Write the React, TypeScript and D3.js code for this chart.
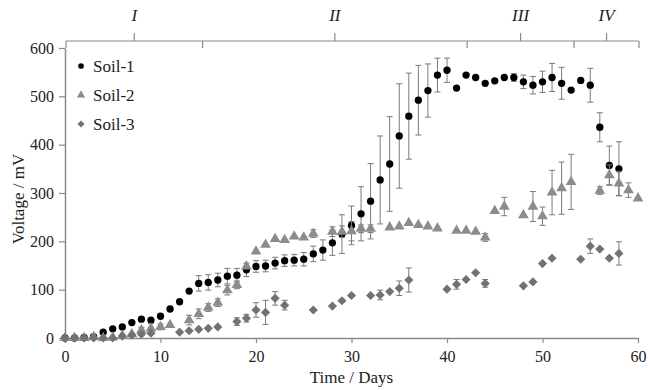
import { useRef, useEffect } from 'react';
import * as d3 from 'd3';

// Soil-1 (black dots)
const soil1Days = d3.range(0, 59);
const soil1Values = [0, 0, 1, 3, 12, 19, 23, 32, 39, 37, 45, 60, 75, 97, 113, 115, 120, 128, 130, 141, 148, 149, 155, 160, 161, 163, 174, 182, 197, 215, 233, 257, 283, 327, 360, 418, 459, 492, 512, 544, 554, 517, 544, 539, 527, 532, 539, 539, 530, 523, 530, 539, 527, 513, 533, 523, 436, 357, 350];
const soil1Errors = [0, 0, 0, 0, 0, 0, 0, 0, 0, 0, 0, 0, 0, 0, 16, 16, 14, 16, 14, 14, 12, 12, 12, 12, 12, 14, 16, 21, 26, 40, 40, 56, 78, 91, 98, 108, 89, 72, 55, 35, 25, 0, 0, 0, 0, 0, 0, 8, 14, 18, 22, 29, 33, 0, 0, 35, 30, 40, 56];

// Soil-2 (grey triangles)
const soil2Days = [0, 1, 2, 3, 4, 5, 6, 7, 8, 9, 10, 11, 13, 14, 15, 16, 17, 18, 19, 20, 21, 22, 23, 24, 25, 26, 28, 29, 30, 31, 32, 34, 35, 36, 37, 38, 39, 41, 42, 43, 44, 45, 46, 48, 49, 50, 51, 52, 53, 56, 57, 58, 59, 60];
const soil2Values = [0, 0, 0, 2, 0, 1, 5, 8, 16, 20, 23, 27, 37, 50, 63, 73, 99, 110, 148, 179, 193, 205, 203, 210, 208, 216, 220, 220, 221, 226, 226, 229, 231, 238, 234, 231, 227, 222, 222, 220, 208, 263, 272, 254, 272, 252, 301, 310, 323, 305, 337, 320, 306, 289];
const soil2Errors = [0, 0, 0, 0, 0, 0, 0, 0, 6, 10, 6, 0, 10, 10, 8, 8, 10, 8, 0, 0, 0, 0, 0, 0, 0, 8, 10, 12, 20, 8, 8, 0, 0, 0, 0, 0, 0, 0, 0, 0, 8, 0, 19, 0, 31, 19, 46, 54, 57, 8, 21, 25, 15, 0];

// Soil-3 (dark grey diamonds)
const soil3Days = [0, 1, 2, 3, 4, 5, 6, 7, 8, 9, 12, 13, 14, 15, 16, 18, 19, 20, 21, 22, 23, 26, 28, 29, 30, 32, 33, 34, 35, 36, 40, 41, 42, 43, 44, 48, 49, 50, 51, 54, 55, 56, 57, 58];
const soil3Values = [0, 0, 0, 0, 0, 0, 4, 6, 8, 10, 12, 15, 18, 20, 23, 34, 41, 58, 53, 82, 68, 58, 66, 77, 88, 88, 89, 96, 103, 120, 101, 111, 121, 135, 113, 108, 116, 154, 165, 163, 190, 184, 165, 175];
const soil3Errors = [0, 0, 0, 0, 0, 0, 0, 0, 0, 0, 0, 0, 0, 0, 0, 8, 8, 15, 25, 14, 10, 0, 0, 0, 0, 0, 10, 0, 15, 25, 0, 10, 0, 0, 8, 0, 0, 0, 0, 0, 15, 0, 0, 24];

const seriesNames = ['Soil-1', 'Soil-2', 'Soil-3'];
const yTicks = [0, 100, 200, 300, 400, 500, 600];
const xTicks = [0, 10, 20, 30, 40, 50, 60];

// experiment phases (days)
const phaseLabels = ['I', 'II', 'III', 'IV'];
const phaseBounds = [0, 14.3, 42, 53.2, 60];

const FONT = '"Liberation Serif", "DejaVu Serif", "Noto Serif", Times, serif';

const App = () => {
  const svgRef = useRef(null);

  useEffect(() => {
    const svg = d3.select(svgRef.current);
    svg.selectAll('*').remove();

    const x = d3.scaleLinear().domain([0, 60]).range([65, 638]);
    const y = d3.scaleLinear().domain([0, 600]).range([338, 48]);
    const axisColor = '#8a8a8a';

    // y axis
    const gy = svg.append('g')
      .attr('transform', `translate(${x(0)},0)`)
      .call(d3.axisLeft(y).tickValues(yTicks).tickSize(6).tickSizeOuter(0).tickPadding(5));
    // x axis
    const gx = svg.append('g')
      .attr('transform', `translate(0,${y(0)})`)
      .call(d3.axisBottom(x).tickValues(xTicks).tickSize(5).tickSizeOuter(0).tickPadding(8));

    [gx, gy].forEach(g => {
      g.attr('font-family', FONT).attr('font-size', 16);
      g.select('.domain').attr('stroke', axisColor).attr('stroke-width', 1.5);
      g.selectAll('.tick line').attr('stroke', axisColor).attr('stroke-width', 1.2);
      g.selectAll('.tick text').attr('fill', '#222');
    });

    svg.append('text')
      .attr('x', (x(0) + x(60)) / 2)
      .attr('y', 383)
      .attr('text-anchor', 'middle')
      .attr('font-family', FONT)
      .attr('font-size', 17)
      .attr('fill', '#222')
      .text('Time / Days');

    svg.append('text')
      .attr('transform', `translate(24,${y(300) + 6}) rotate(-90)`)
      .attr('text-anchor', 'middle')
      .attr('font-family', FONT)
      .attr('font-size', 17)
      .attr('fill', '#222')
      .text('Voltage / mV');

    // phase bracket on top
    const top = svg.append('g').attr('stroke', axisColor).attr('stroke-width', 1.2);
    const bracketY = 41;
    top.append('line')
      .attr('x1', x(0) + 1).attr('x2', x(60) + 1)
      .attr('y1', bracketY).attr('y2', bracketY);
    phaseBounds.forEach(b => {
      top.append('line')
        .attr('x1', x(b) + 1).attr('x2', x(b) + 1)
        .attr('y1', bracketY).attr('y2', bracketY + 7);
    });
    phaseLabels.forEach((lab, i) => {
      const mid = x((phaseBounds[i] + phaseBounds[i + 1]) / 2) + 1;
      top.append('line')
        .attr('x1', mid).attr('x2', mid)
        .attr('y1', bracketY - 8).attr('y2', bracketY);
      svg.append('text')
        .attr('x', mid)
        .attr('y', 21)
        .attr('text-anchor', 'middle')
        .attr('font-family', FONT)
        .attr('font-size', 17)
        .attr('font-style', 'italic')
        .attr('fill', '#222')
        .text(lab);
    });

    const series = [
      { days: soil1Days, values: soil1Values, errors: soil1Errors, color: '#000', shape: 'circle' },
      { days: soil2Days, values: soil2Values, errors: soil2Errors, color: '#8c8c8c', shape: 'triangle' },
      { days: soil3Days, values: soil3Values, errors: soil3Errors, color: '#727272', shape: 'diamond' },
    ];

    const symbolPath = (shape, scale = 1) => {
      if (shape === 'circle') return d3.symbol(d3.symbolCircle, 42 * scale)();
      if (shape === 'triangle') return d3.symbol(d3.symbolTriangle, 50 * scale)();
      return d3.symbol(d3.symbolSquare, 42 * scale)();
    };

    series.forEach(s => {
      const pts = s.days.map((d, i) => ({ day: d, v: s.values[i], e: s.errors[i] || 0 }));
      const g = svg.append('g');
      const bars = g.selectAll('.err')
        .data(pts.filter(p => p.e > 0))
        .enter().append('g')
        .attr('stroke', '#7a7a7a')
        .attr('stroke-width', 1);
      bars.append('line')
        .attr('x1', p => x(p.day)).attr('x2', p => x(p.day))
        .attr('y1', p => y(p.v - p.e)).attr('y2', p => y(p.v + p.e));
      bars.append('line')
        .attr('x1', p => x(p.day) - 3).attr('x2', p => x(p.day) + 3)
        .attr('y1', p => y(p.v - p.e)).attr('y2', p => y(p.v - p.e));
      bars.append('line')
        .attr('x1', p => x(p.day) - 3).attr('x2', p => x(p.day) + 3)
        .attr('y1', p => y(p.v + p.e)).attr('y2', p => y(p.v + p.e));

      g.selectAll('.mark')
        .data(pts)
        .enter().append('path')
        .attr('d', symbolPath(s.shape))
        .attr('transform', p => `translate(${x(p.day)},${y(p.v)})${s.shape === 'diamond' ? ' rotate(45)' : ''}`)
        .attr('fill', s.color);
    });

    // legend
    const legend = svg.append('g');
    seriesNames.forEach((name, i) => {
      const ly = 66 + i * 29;
      legend.append('path')
        .attr('d', symbolPath(series[i].shape, 0.6))
        .attr('transform', `translate(81,${ly})${series[i].shape === 'diamond' ? ' rotate(45)' : ''}`)
        .attr('fill', series[i].color);
      legend.append('text')
        .attr('x', 93)
        .attr('y', ly + 6)
        .attr('font-family', FONT)
        .attr('font-size', 17)
        .attr('fill', '#222')
        .text(name);
    });
  }, []);

  return (
    <div style={{ position: 'fixed', left: 0, top: 0, background: '#fff' }}>
      <svg ref={svgRef} width="650" height="390"></svg>
    </div>
  );
};

export default App;
